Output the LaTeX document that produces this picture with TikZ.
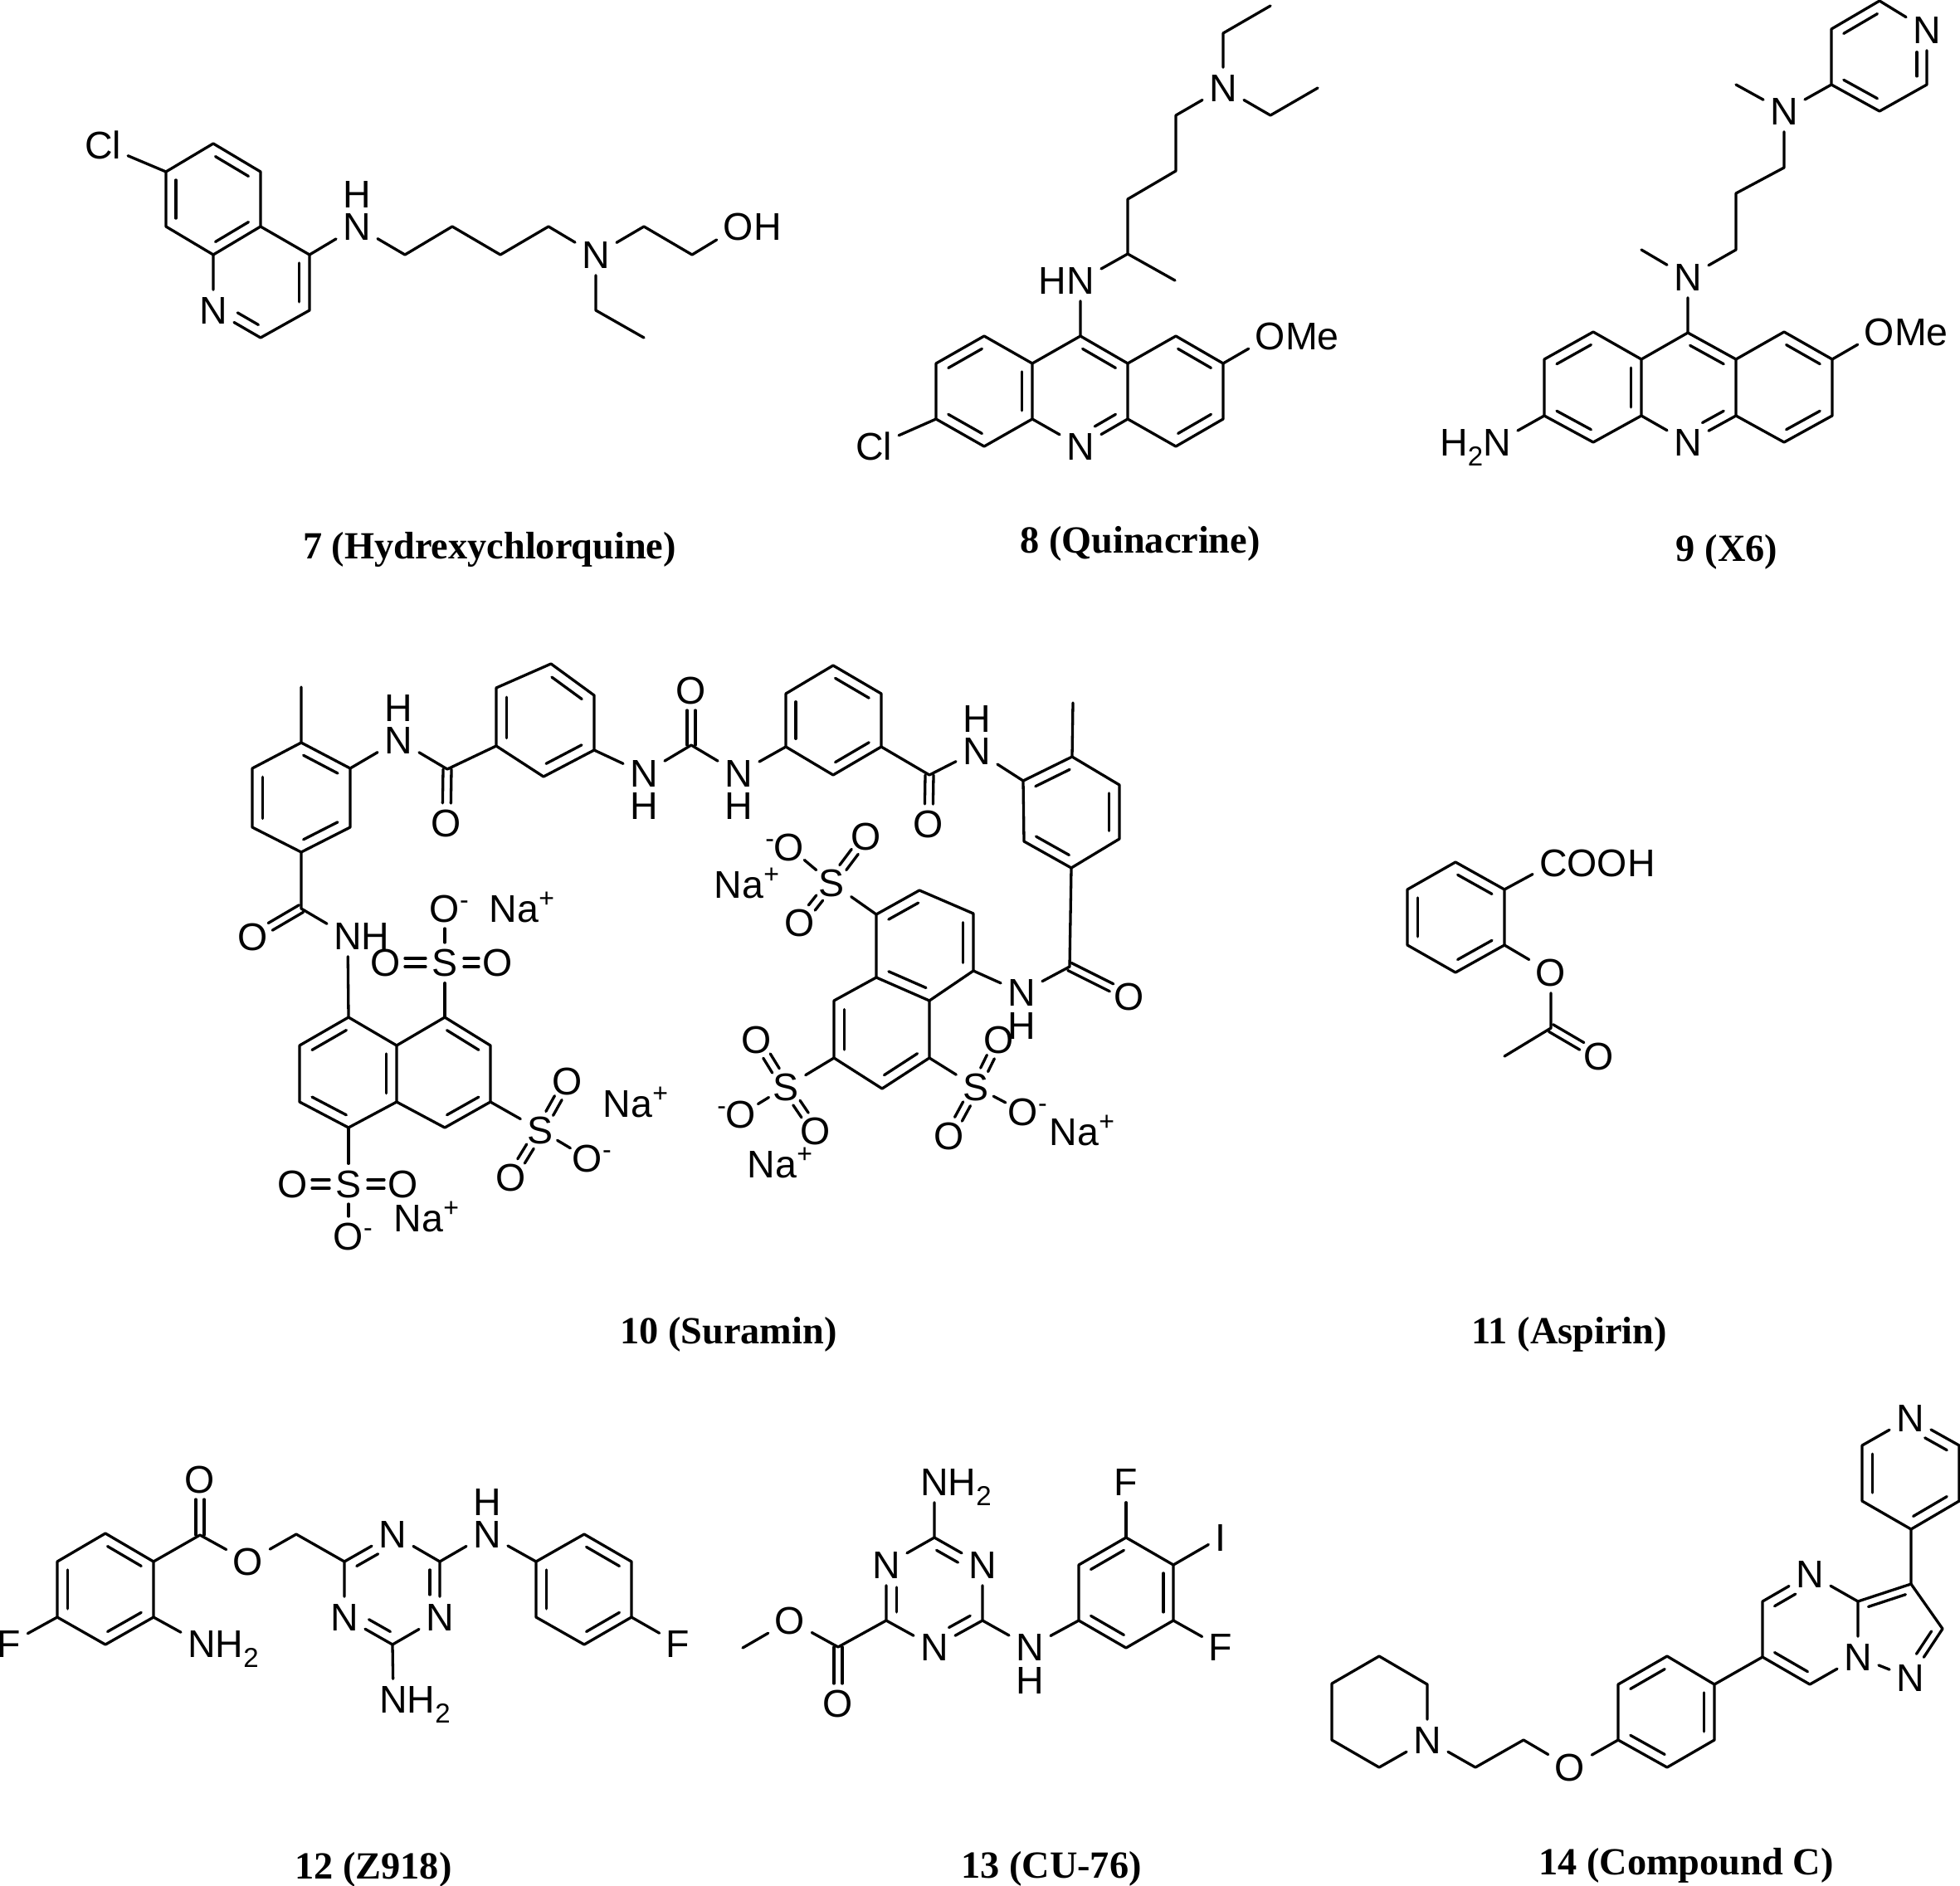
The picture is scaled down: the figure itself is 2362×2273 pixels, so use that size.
\documentclass[tikz,border=0pt]{standalone}
\usepackage{fontspec}
\setmainfont{Liberation Sans}
\newfontfamily\capfont{Liberation Serif}
\usetikzlibrary{calc}
\tikzset{
	bond/.style={line width=3.3pt,line cap=round,line join=round},
	atom/.style={inner sep=8pt,text height=33pt,text depth=0pt,font=\fontsize{46.5}{54}\selectfont},
	hyd/.style={inner sep=0pt,text height=33pt,text depth=0pt,font=\fontsize{46.5}{54}\selectfont},
	cpd/.style={inner sep=0pt,font=\capfont\bfseries\fontsize{46.3}{54}\selectfont},
}
\newcommand{\up}[2][18pt]{\raisebox{#1}{\fontsize{32}{32}\selectfont #2}}
\newcommand{\dn}[1]{\raisebox{-12pt}{\fontsize{33}{33}\selectfont #1}}
\newcommand{\inb}[4][]{\draw[bond,shorten <=3pt,shorten >=3pt,#1] ($(#2)!.21!(#4)$) -- ($(#3)!.21!(#4)$);}
\newcommand{\twin}[3][]{\draw[bond,shorten >=24pt,#1] ($(#2)!5pt!90:(#3)$) -- ($(#3)!5pt!-90:(#2)$);
	\draw[bond,shorten >=24pt,#1] ($(#2)!5pt!-90:(#3)$) -- ($(#3)!5pt!90:(#2)$);}
\newcommand{\sox}[2]{\twin[shorten <=23pt,shorten >=23pt]{#1}{#2}}
\newcommand{\sob}[2]{\draw[bond,shorten <=24pt,shorten >=24pt] (#1.center) -- (#2.center);}
\begin{document}
\begin{tikzpicture}[x=1pt,y=-1pt]
	\useasboundingbox (0,0) rectangle (2362,2273);

	\coordinate (a1) at (200,207);
	\coordinate (a2) at (257,173);
	\coordinate (a3) at (314,207);
	\coordinate (a4) at (314,273);
	\coordinate (a5) at (257,307);
	\coordinate (a6) at (200,273);
	\coordinate (a7) at (373,307);
	\coordinate (a8) at (373,374);
	\coordinate (a9) at (314,407);
	\coordinate (ac1) at (257,240);
	\coordinate (ac2) at (314,340);
	\coordinate (a10) at (488,307);
	\coordinate (a11) at (545,273);
	\coordinate (a12) at (603,307);
	\coordinate (a13) at (661,273);
	\coordinate (a14) at (776,273);
	\coordinate (a15) at (834,307);
	\coordinate (a16) at (718,374);
	\coordinate (a17) at (776,407);
	\node[atom] (acl) at (124,175) {Cl};
	\node[atom] (an1) at (257,374) {N};
	\node[atom] (an2) at (430,273) {N};
	\node[hyd] (ah2) at (430,234) {H};
	\node[atom] (an3) at (718,307) {N};
	\node[atom] (aoh) at (890,273) {O\rlap{H}};
	\draw[bond] (acl) -- (a1) -- (a2) -- (a3) -- (a4) -- (a5) -- (a6) -- (a1);
	\draw[bond] (a4) -- (a7) -- (a8) -- (a9) -- (an1) -- (a5);
	\draw[bond] (a7) -- (an2) -- (a10) -- (a11) -- (a12) -- (a13) -- (an3) -- (a14) -- (a15) -- (aoh);
	\draw[bond] (an3) -- (a16) -- (a17);
	\inb{a1}{a6}{ac1}
	\inb{a2}{a3}{ac1}
	\inb{a4}{a5}{ac1}
	\inb{a7}{a8}{ac2}
	\inb[shorten <=20pt]{an1}{a9}{ac2}
	\node[cpd] (l7) at (590,662) {7 (Hydrexychlorquine)};

	\coordinate (b1) at (1186,405);
	\coordinate (b2) at (1128,438);
	\coordinate (b3) at (1128,505);
	\coordinate (b4) at (1186,538);
	\coordinate (b5) at (1244,505);
	\coordinate (b6) at (1244,438);
	\coordinate (b7) at (1302,405);
	\coordinate (b8) at (1359,438);
	\coordinate (b9) at (1359,505);
	\coordinate (b10) at (1417,405);
	\coordinate (b11) at (1474,438);
	\coordinate (b12) at (1474,505);
	\coordinate (b13) at (1417,538);
	\coordinate (bc1) at (1186,471);
	\coordinate (bc2) at (1302,471);
	\coordinate (bc3) at (1417,471);
	\coordinate (b14) at (1359,306);
	\coordinate (b15) at (1416,338);
	\coordinate (b16) at (1359,240);
	\coordinate (b17) at (1417,206);
	\coordinate (b18) at (1417,139);
	\coordinate (b19) at (1474,40);
	\coordinate (b20) at (1531,7);
	\coordinate (b21) at (1531,139);
	\coordinate (b22) at (1588,106);
	\node[atom] (bcl) at (1053,538) {Cl};
	\node[atom] (bn1) at (1302,538) {N};
	\node[atom] (bn2) at (1302,338) {\llap{H}N};
	\node[atom] (bn3) at (1474,106) {N};
	\node[atom] (bo) at (1531,405) {O\rlap{Me}};
	\draw[bond] (b6) -- (b1) -- (b2) -- (b3) -- (b4) -- (b5) -- (b6) -- (b7) -- (b8) -- (b9) -- (bn1) -- (b5);
	\draw[bond] (b8) -- (b10) -- (b11) -- (b12) -- (b13) -- (b9);
	\draw[bond] (bcl) -- (b3);
	\draw[bond] (b11) -- (bo);
	\draw[bond] (b7) -- (bn2) -- (b14) -- (b16) -- (b17) -- (b18) -- (bn3) -- (b19) -- (b20);
	\draw[bond] (b14) -- (b15);
	\draw[bond] (bn3) -- (b21) -- (b22);
	\inb{b1}{b2}{bc1}
	\inb{b3}{b4}{bc1}
	\inb{b5}{b6}{bc1}
	\inb{b7}{b8}{bc2}
	\inb[shorten >=20pt]{b9}{bn1}{bc2}
	\inb{b10}{b11}{bc3}
	\inb{b12}{b13}{bc3}
	\node[cpd] (l8) at (1374,655) {8 (Quinacrine)};

	\coordinate (c1) at (1920,400);
	\coordinate (c2) at (1861,433);
	\coordinate (c3) at (1861,501);
	\coordinate (c4) at (1920,533);
	\coordinate (c5) at (1978,501);
	\coordinate (c6) at (1978,433);
	\coordinate (c7) at (2034,401);
	\coordinate (c8) at (2092,433);
	\coordinate (c9) at (2092,501);
	\coordinate (c10) at (2150,400);
	\coordinate (c11) at (2208,433);
	\coordinate (c12) at (2208,501);
	\coordinate (c13) at (2150,533);
	\coordinate (cc1) at (1920,467);
	\coordinate (cc2) at (2034,467);
	\coordinate (cc3) at (2150,467);
	\coordinate (cc4) at (2265,68);
	\coordinate (c14) at (1978,301);
	\coordinate (c15) at (2092,301);
	\coordinate (c16) at (2092,233);
	\coordinate (c17) at (2150,202);
	\coordinate (c18) at (2092,102);
	\coordinate (c19) at (2207,102);
	\coordinate (c20) at (2207,35);
	\coordinate (c21) at (2265,1);
	\coordinate (c22) at (2265,134);
	\coordinate (c23) at (2322,102);
	\node[atom] (cn1) at (2034,533) {N};
	\node[atom] (cn2) at (2034,334) {N};
	\node[atom] (cn3) at (2150,134) {N};
	\node[atom] (cn4) at (2322,36) {N};
	\node[atom] (cn5) at (1804,533) {\llap{H\dn{2}}N};
	\node[atom] (co) at (2265,400) {O\rlap{Me}};
	\draw[bond] (c6) -- (c1) -- (c2) -- (c3) -- (c4) -- (c5) -- (c6) -- (c7) -- (c8) -- (c9) -- (cn1) -- (c5);
	\draw[bond] (c8) -- (c10) -- (c11) -- (c12) -- (c13) -- (c9);
	\draw[bond] (cn5) -- (c3);
	\draw[bond] (c11) -- (co);
	\draw[bond] (c7) -- (cn2) -- (c15) -- (c16) -- (c17) -- (cn3) -- (c19) -- (c20) -- (c21) -- (cn4) -- (c23) -- (c22) -- (c19);
	\draw[bond] (cn2) -- (c14);
	\draw[bond] (cn3) -- (c18);
	\inb{c1}{c2}{cc1}
	\inb{c3}{c4}{cc1}
	\inb{c5}{c6}{cc1}
	\inb{c7}{c8}{cc2}
	\inb[shorten >=20pt]{c9}{cn1}{cc2}
	\inb{c10}{c11}{cc3}
	\inb{c12}{c13}{cc3}
	\inb{c20}{c21}{cc4}
	\inb{c19}{c22}{cc4}
	\inb[shorten <=20pt]{cn4}{c23}{cc4}
	\node[cpd] (l9) at (2081,665) {9 (X6)};

	\coordinate (d1) at (363,895);
	\coordinate (d2) at (422,926);
	\coordinate (d3) at (422,997);
	\coordinate (d4) at (363,1027);
	\coordinate (d5) at (304,997);
	\coordinate (d6) at (304,926);
	\coordinate (dm1) at (363,828);
	\coordinate (dc1) at (363,961);
	\coordinate (d7) at (539,927);
	\coordinate (d8) at (598,899);
	\coordinate (d9) at (598,829);
	\coordinate (d10) at (664,800);
	\coordinate (d11) at (716,838);
	\coordinate (d12) at (716,904);
	\coordinate (d13) at (655,936);
	\coordinate (dc2) at (657,868);
	\coordinate (d14) at (833,898);
	\coordinate (d15) at (947,900);
	\coordinate (d16) at (947,836);
	\coordinate (d17) at (1004,802);
	\coordinate (d18) at (1062,836);
	\coordinate (d19) at (1062,900);
	\coordinate (d20) at (1004,934);
	\coordinate (dc3) at (1004,868);
	\coordinate (d21) at (1120,934);
	\coordinate (d22) at (1233,941);
	\coordinate (d23) at (1292,912);
	\coordinate (d24) at (1349,946);
	\coordinate (d25) at (1349,1011);
	\coordinate (d26) at (1291,1046);
	\coordinate (d27) at (1234,1014);
	\coordinate (dm2) at (1293,847);
	\coordinate (dc4) at (1291,979);
	\coordinate (d28) at (1289,1165);
	\coordinate (d29) at (363,1095);
	\node[atom] (dn1) at (480,892) {N};
	\node[hyd] (dh1) at (480,853) {H};
	\node[atom] (do1) at (538,992) {O};
	\node[atom] (dn2) at (776,932) {N};
	\node[hyd] (dh2) at (776,971) {H};
	\node[atom] (do2) at (833,832) {O};
	\node[atom] (dn3) at (890,932) {N};
	\node[hyd] (dh3) at (890,971) {H};
	\node[atom] (do3) at (1119,993) {O};
	\node[atom] (dn4) at (1177,905) {N};
	\node[hyd] (dh4) at (1177,866) {H};
	\node[atom] (do4) at (1361,1201) {O};
	\node[atom] (dn5) at (1231,1196) {N};
	\node[hyd] (dh5) at (1231,1236) {H};
	\node[atom] (do5) at (305,1129) {O};
	\node[atom] (dn6) at (419,1128) {N\rlap{H}};
	\draw[bond] (dm1) -- (d1) -- (d2) -- (d3) -- (d4) -- (d5) -- (d6) -- (d1);
	\draw[bond] (d2) -- (dn1) -- (d7) -- (d8) -- (d9) -- (d10) -- (d11) -- (d12) -- (d13) -- (d8);
	\draw[bond] (d12) -- (dn2) -- (d14) -- (dn3) -- (d15) -- (d16) -- (d17) -- (d18) -- (d19) -- (d20) -- (d15);
	\draw[bond] (d19) -- (d21) -- (dn4) -- (d22) -- (d23) -- (d24) -- (d25) -- (d26) -- (d27) -- (d22);
	\draw[bond] (d23) -- (dm2);
	\draw[bond] (d26) -- (d28) -- (dn5);
	\draw[bond] (d4) -- (d29) -- (dn6);
	\twin{d7}{do1}
	\twin{d14}{do2}
	\twin{d21}{do3}
	\twin{d28}{do4}
	\twin{d29}{do5}
	\inb{d1}{d2}{dc1}
	\inb{d3}{d4}{dc1}
	\inb{d5}{d6}{dc1}
	\inb{d8}{d9}{dc2}
	\inb{d10}{d11}{dc2}
	\inb{d12}{d13}{dc2}
	\inb{d15}{d16}{dc3}
	\inb{d17}{d18}{dc3}
	\inb{d19}{d20}{dc3}
	\inb{d22}{d23}{dc4}
	\inb{d24}{d25}{dc4}
	\inb{d26}{d27}{dc4}

	\coordinate (e1) at (420,1226);
	\coordinate (e2) at (361,1260);
	\coordinate (e3) at (361,1328);
	\coordinate (e4) at (420,1359);
	\coordinate (e5) at (478,1328);
	\coordinate (e6) at (478,1260);
	\coordinate (e7) at (536,1226);
	\coordinate (e8) at (591,1260);
	\coordinate (e9) at (591,1328);
	\coordinate (e10) at (536,1359);
	\coordinate (ec1) at (420,1293);
	\coordinate (ec2) at (536,1293);
	\node[atom] (es1) at (536,1160) {S};
	\node[atom] (eo1) at (536,1095) {O\rlap{\up[16pt]{-}}};
	\node[atom] (eo2) at (465,1160) {O};
	\node[atom] (eo3) at (600,1160) {O};
	\node[atom] (es2) at (651,1362) {S};
	\node[atom] (eo4) at (684,1303) {O};
	\node[atom] (eo5) at (708,1396) {O\rlap{\up[16pt]{-}}};
	\node[atom] (eo6) at (616,1419) {O};
	\node[atom] (es3) at (420,1427) {S};
	\node[atom] (eo7) at (353,1427) {O};
	\node[atom] (eo8) at (486,1427) {O};
	\node[atom] (eo9) at (420,1490) {O\rlap{\up[16pt]{-}}};
	\node[atom] (ena1) at (629,1095) {Na\up{+}};
	\node[atom] (ena2) at (766,1330) {Na\up{+}};
	\node[atom] (ena3) at (514,1468) {Na\up{+}};
	\draw[bond] (dn6) -- (e1) -- (e2) -- (e3) -- (e4) -- (e5) -- (e6) -- (e1);
	\draw[bond] (e6) -- (e7) -- (e8) -- (e9) -- (e10) -- (e5);
	\draw[bond] (e7) -- (es1);
	\draw[bond] (e9) -- (es2);
	\draw[bond] (e4) -- (es3);
	\sob{es1}{eo1}
	\sob{es2}{eo5}
	\sob{es3}{eo9}
	\sox{es1}{eo2}
	\sox{es1}{eo3}
	\sox{es2}{eo4}
	\sox{es2}{eo6}
	\sox{es3}{eo7}
	\sox{es3}{eo8}
	\inb{e1}{e2}{ec1}
	\inb{e3}{e4}{ec1}
	\inb{e5}{e6}{ec1}
	\inb{e7}{e8}{ec2}
	\inb{e9}{e10}{ec2}

	\coordinate (f1) at (1173,1170);
	\coordinate (f2) at (1173,1101);
	\coordinate (f3) at (1108,1073);
	\coordinate (f4) at (1056,1102);
	\coordinate (f5) at (1056,1178);
	\coordinate (f6) at (1120,1206);
	\coordinate (f7) at (1005,1206);
	\coordinate (f8) at (1005,1275);
	\coordinate (f9) at (1063,1312);
	\coordinate (f10) at (1120,1275);
	\coordinate (fc1) at (1114,1138);
	\coordinate (fc2) at (1063,1242);
	\node[atom] (fs1) at (1002,1064) {S};
	\node[atom] (fo1) at (951,1021) {\llap{\up[16pt]{-}}O};
	\node[atom] (fo2) at (1044,1008) {O};
	\node[atom] (fo3) at (964,1112) {O};
	\node[atom] (fs2) at (947,1310) {S};
	\node[atom] (fo4) at (912,1253) {O};
	\node[atom] (fo5) at (893,1343) {\llap{\up[16pt]{-}}O};
	\node[atom] (fo6) at (983,1363) {O};
	\node[atom] (fs3) at (1176,1310) {S};
	\node[atom] (fo7) at (1204,1253) {O};
	\node[atom] (fo8) at (1233,1340) {O\rlap{\up[16pt]{-}}};
	\node[atom] (fo9) at (1144,1369) {O};
	\node[atom] (fna1) at (900,1066) {Na\up{+}};
	\node[atom] (fna2) at (940,1403) {Na\up{+}};
	\node[atom] (fna3) at (1304,1364) {Na\up{+}};
	\draw[bond] (dn5) -- (f1) -- (f2) -- (f3) -- (f4) -- (f5) -- (f6) -- (f1);
	\draw[bond] (f5) -- (f7) -- (f8) -- (f9) -- (f10) -- (f6);
	\draw[bond] (f4) -- (fs1);
	\draw[bond] (f8) -- (fs2);
	\draw[bond] (f10) -- (fs3);
	\sob{fs1}{fo1}
	\sob{fs2}{fo5}
	\sob{fs3}{fo8}
	\sox{fs1}{fo2}
	\sox{fs1}{fo3}
	\sox{fs2}{fo4}
	\sox{fs2}{fo6}
	\sox{fs3}{fo7}
	\sox{fs3}{fo9}
	\inb{f1}{f2}{fc1}
	\inb{f3}{f4}{fc1}
	\inb{f5}{f6}{fc1}
	\inb{f7}{f8}{fc2}
	\inb{f9}{f10}{fc2}
	\node[cpd] (l10) at (878,1608) {10 (Suramin)};

	\coordinate (g1) at (1754,1039);
	\coordinate (g2) at (1813,1072);
	\coordinate (g3) at (1813,1139);
	\coordinate (g4) at (1754,1172);
	\coordinate (g5) at (1696,1139);
	\coordinate (g6) at (1696,1072);
	\coordinate (gc1) at (1754,1105);
	\coordinate (g7) at (1869,1239);
	\coordinate (g8) at (1813,1273);
	\node[atom] (go1) at (1872,1040) {C\rlap{OOH}};
	\node[atom] (go2) at (1869,1172) {O};
	\node[atom] (go3) at (1927,1273) {O};
	\draw[bond] (go1) -- (g2) -- (g3) -- (g4) -- (g5) -- (g6) -- (g1) -- (g2);
	\draw[bond] (g3) -- (go2) -- (g7) -- (g8);
	\twin{g7}{go3}
	\inb{g1}{g2}{gc1}
	\inb{g3}{g4}{gc1}
	\inb{g5}{g6}{gc1}
	\node[cpd] (l11) at (1891,1608) {11 (Aspirin)};

	\coordinate (h1) at (127,1848);
	\coordinate (h2) at (185,1882);
	\coordinate (h3) at (185,1949);
	\coordinate (h4) at (127,1982);
	\coordinate (h5) at (69,1949);
	\coordinate (h6) at (69,1882);
	\coordinate (hc1) at (127,1915);
	\coordinate (h7) at (241,1850);
	\coordinate (h8) at (357,1849);
	\coordinate (h9) at (415,1882);
	\coordinate (h10) at (530,1882);
	\coordinate (h11) at (473,1982);
	\coordinate (hc2) at (473,1915);
	\coordinate (h12) at (646,1882);
	\coordinate (h13) at (704,1849);
	\coordinate (h14) at (761,1882);
	\coordinate (h15) at (761,1949);
	\coordinate (h16) at (704,1982);
	\coordinate (h17) at (646,1949);
	\coordinate (hc3) at (704,1915);
	\node[atom] (hf1) at (11,1981) {F};
	\node[atom] (hn1) at (243,1981) {N\rlap{H\dn{2}}};
	\node[atom] (ho1) at (241,1783) {O};
	\node[atom] (ho2) at (299,1882) {O};
	\node[atom] (hn2) at (473,1849) {N};
	\node[atom] (hn3) at (530,1949) {N};
	\node[atom] (hn4) at (415,1949) {N};
	\node[atom] (hn5) at (587,1849) {N};
	\node[hyd] (hh5) at (587,1810) {H};
	\node[atom] (hn6) at (474,2048) {N\rlap{H\dn{2}}};
	\node[atom] (hf2) at (817,1981) {F};
	\draw[bond] (hf1) -- (h5) -- (h6) -- (h1) -- (h2) -- (h3) -- (h4) -- (h5);
	\draw[bond] (h3) -- (hn1);
	\draw[bond] (h2) -- (h7) -- (ho2) -- (h8) -- (h9) -- (hn2) -- (h10) -- (hn3) -- (h11) -- (hn4) -- (h9);
	\draw[bond] (h11) -- (hn6);
	\draw[bond] (h10) -- (hn5) -- (h12) -- (h13) -- (h14) -- (h15) -- (h16) -- (h17) -- (h12);
	\draw[bond] (h15) -- (hf2);
	\twin{h7}{ho1}
	\inb{h1}{h2}{hc1}
	\inb{h3}{h4}{hc1}
	\inb{h5}{h6}{hc1}
	\inb[shorten >=20pt]{h9}{hn2}{hc2}
	\inb[shorten >=20pt]{h10}{hn3}{hc2}
	\inb[shorten >=20pt]{h11}{hn4}{hc2}
	\inb{h13}{h14}{hc3}
	\inb{h15}{h16}{hc3}
	\inb{h17}{h12}{hc3}
	\node[cpd] (l12) at (450,2253) {12 (Z918)};

	\coordinate (i1) at (1126,1853);
	\coordinate (i2) at (1184,1953);
	\coordinate (i3) at (1068,1953);
	\coordinate (ic1) at (1126,1919);
	\coordinate (i4) at (1010,1985);
	\coordinate (i5) at (895,1986);
	\coordinate (i6) at (1300,1953);
	\coordinate (i7) at (1300,1886);
	\coordinate (i8) at (1357,1853);
	\coordinate (i9) at (1414,1886);
	\coordinate (i10) at (1414,1953);
	\coordinate (i11) at (1357,1986);
	\coordinate (ic2) at (1357,1919);
	\node[atom] (in1) at (1184,1886) {N};
	\node[atom] (in2) at (1126,1985) {N};
	\node[atom] (in3) at (1068,1886) {N};
	\node[atom] (in4) at (1126,1786) {N\rlap{H\dn{2}}};
	\node[atom] (io1) at (952,1953) {O};
	\node[atom] (io2) at (1010,2053) {O};
	\node[atom] (in5) at (1241,1985) {N};
	\node[hyd] (ih5) at (1241,2025) {H};
	\node[atom] (if1) at (1357,1786) {F};
	\node[atom] (ii1) at (1471,1853) {I};
	\node[atom] (if2) at (1471,1985) {F};
	\draw[bond] (i1) -- (in1) -- (i2) -- (in2) -- (i3) -- (in3) -- (i1) -- (in4);
	\draw[bond] (i3) -- (i4) -- (io1) -- (i5);
	\draw[bond] (i2) -- (in5) -- (i6) -- (i7) -- (i8) -- (i9) -- (i10) -- (i11) -- (i6);
	\draw[bond] (i8) -- (if1);
	\draw[bond] (i9) -- (ii1);
	\draw[bond] (i10) -- (if2);
	\twin{i4}{io2}
	\inb[shorten >=20pt]{i1}{in1}{ic1}
	\inb[shorten >=20pt]{i2}{in2}{ic1}
	\inb[shorten >=20pt]{i3}{in3}{ic1}
	\inb{i7}{i8}{ic2}
	\inb{i9}{i10}{ic2}
	\inb{i11}{i6}{ic2}
	\node[cpd] (l13) at (1267,2252) {13 (CU-76)};

	\coordinate (j1) at (2244,1742);
	\coordinate (j2) at (2244,1809);
	\coordinate (j3) at (2303,1843);
	\coordinate (j4) at (2361,1809);
	\coordinate (j5) at (2361,1742);
	\coordinate (jc1) at (2303,1776);
	\coordinate (j6) at (2303,1909);
	\coordinate (j7) at (2239,1930);
	\coordinate (j8) at (2124,1930);
	\coordinate (j9) at (2124,1997);
	\coordinate (j10) at (2181,2030);
	\coordinate (j11) at (2341,1963);
	\coordinate (jc2) at (2181,1964);
	\coordinate (jc3) at (2285,1965);
	\coordinate (j12) at (2066,2030);
	\coordinate (j13) at (2009,1996);
	\coordinate (j14) at (1950,2030);
	\coordinate (j15) at (1950,2097);
	\coordinate (j16) at (2009,2130);
	\coordinate (j17) at (2066,2097);
	\coordinate (jc4) at (2008,2063);
	\coordinate (j18) at (1836,2097);
	\coordinate (j19) at (1778,2130);
	\coordinate (j20) at (1720,2030);
	\coordinate (j21) at (1662,1996);
	\coordinate (j22) at (1605,2029);
	\coordinate (j23) at (1605,2097);
	\coordinate (j24) at (1662,2130);
	\node[atom] (jn1) at (2302,1709) {N};
	\node[atom] (jn2) at (2181,1897) {N};
	\node[atom] (jn3) at (2239,1997) {N};
	\node[atom] (jn4) at (2302,2022) {N};
	\node[atom] (jo1) at (1892,2130) {O};
	\node[atom] (jn5) at (1720,2097) {N};
	\draw[bond] (jn1) -- (j1) -- (j2) -- (j3) -- (j4) -- (j5) -- (jn1);
	\draw[bond] (j3) -- (j6) -- (j7) -- (jn2) -- (j8) -- (j9) -- (j10) -- (jn3) -- (j7);
	\draw[bond] (j6) -- (j11) -- (jn4) -- (jn3);
	\draw[bond] (j9) -- (j12) -- (j13) -- (j14) -- (j15) -- (j16) -- (j17) -- (j12);
	\draw[bond] (j15) -- (jo1) -- (j18) -- (j19) -- (jn5) -- (j20) -- (j21) -- (j22) -- (j23) -- (j24) -- (jn5);
	\inb[shorten <=20pt]{jn1}{j5}{jc1}
	\inb{j1}{j2}{jc1}
	\inb{j3}{j4}{jc1}
	\inb{j6}{j7}{jc3}
	\inb[shorten >=20pt]{j11}{jn4}{jc3}
	\inb[shorten >=20pt]{j8}{jn2}{jc2}
	\inb{j9}{j10}{jc2}
	\inb{j13}{j14}{jc4}
	\inb{j15}{j16}{jc4}
	\inb{j17}{j12}{jc4}
	\node[cpd] (l14) at (2032,2248) {14 (Compound C)};
\end{tikzpicture}
\end{document}
